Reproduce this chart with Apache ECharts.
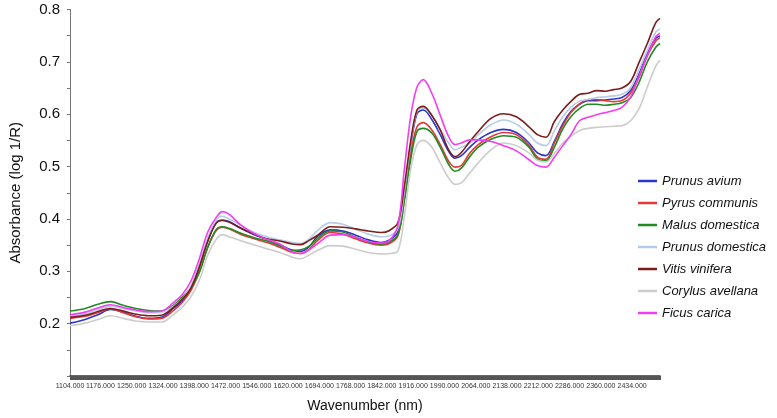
<!DOCTYPE html>
<html>
  <head>
    <meta charset="utf-8" />
    <title>NIR spectra</title>
    <script src="https://cdn.jsdelivr.net/npm/echarts@6/dist/echarts.min.js"></script>
    <style>
      body { margin: 0; background: #fff; }
    </style>
  </head>
  <body>
    <div id="chart" style="width: 777px; height: 418px"></div>

    <script type="text/javascript">
const wavelengths = [1104, 1140, 1170, 1200, 1230, 1260, 1290, 1320, 1350, 1370,
  1390, 1410, 1430, 1450, 1465, 1480, 1510, 1540, 1570, 1600,
  1630, 1650, 1670, 1690, 1720, 1750, 1780, 1810, 1840, 1860,
  1880, 1895, 1910, 1925, 1940, 1960, 1980, 2000, 2015, 2030,
  2050, 2070, 2100, 2130, 2160, 2190, 2210, 2230, 2250, 2270,
  2290, 2310, 2330, 2350, 2370, 2390, 2410, 2430, 2450, 2470,
  2490, 2500];

// x tick labels
const xTickLabels = [1104, 1176, 1250, 1324, 1398, 1472, 1546, 1620, 1694, 1768,
  1842, 1916, 1990, 2064, 2138, 2212, 2286, 2360, 2434];

const speciesNames = ['Prunus avium', 'Pyrus communis', 'Malus domestica',
  'Prunus domestica', 'Vitis vinifera', 'Corylus avellana', 'Ficus carica'];

const prunusAvium = [0.201, 0.208, 0.217, 0.227, 0.222, 0.214, 0.210, 0.212, 0.230, 0.244,
  0.267, 0.309, 0.358, 0.393, 0.398, 0.395, 0.381, 0.370, 0.361, 0.351,
  0.340, 0.338, 0.347, 0.367, 0.379, 0.377, 0.369, 0.360, 0.355, 0.360,
  0.376, 0.449, 0.538, 0.601, 0.608, 0.590, 0.561, 0.529, 0.516, 0.521,
  0.537, 0.551, 0.565, 0.571, 0.565, 0.545, 0.526, 0.521, 0.548, 0.582,
  0.606, 0.619, 0.626, 0.626, 0.627, 0.629, 0.632, 0.645, 0.676, 0.716,
  0.745, 0.750];

const pyrusCommunis = [0.210, 0.214, 0.221, 0.228, 0.221, 0.213, 0.209, 0.210, 0.226, 0.241,
  0.263, 0.299, 0.346, 0.378, 0.384, 0.381, 0.370, 0.362, 0.355, 0.346,
  0.336, 0.334, 0.342, 0.359, 0.374, 0.371, 0.362, 0.354, 0.350, 0.353,
  0.368, 0.437, 0.523, 0.576, 0.584, 0.570, 0.542, 0.510, 0.499, 0.502,
  0.526, 0.542, 0.557, 0.565, 0.561, 0.540, 0.518, 0.514, 0.545, 0.578,
  0.604, 0.620, 0.628, 0.628, 0.626, 0.624, 0.626, 0.640, 0.670, 0.712,
  0.740, 0.746];

const malusDomestica = [0.224, 0.229, 0.237, 0.242, 0.235, 0.229, 0.225, 0.224, 0.236, 0.251,
  0.268, 0.298, 0.346, 0.380, 0.385, 0.382, 0.372, 0.364, 0.358, 0.349,
  0.340, 0.341, 0.348, 0.363, 0.377, 0.375, 0.365, 0.356, 0.352, 0.356,
  0.370, 0.434, 0.513, 0.567, 0.573, 0.564, 0.537, 0.504, 0.491, 0.497,
  0.519, 0.537, 0.552, 0.559, 0.556, 0.537, 0.514, 0.511, 0.537, 0.572,
  0.596, 0.611, 0.619, 0.619, 0.617, 0.619, 0.622, 0.631, 0.660, 0.700,
  0.728, 0.735];

const prunusDomestica = [0.214, 0.219, 0.227, 0.233, 0.229, 0.224, 0.221, 0.222, 0.234, 0.248,
  0.271, 0.314, 0.364, 0.398, 0.405, 0.400, 0.387, 0.374, 0.366, 0.360,
  0.355, 0.353, 0.362, 0.378, 0.393, 0.390, 0.380, 0.371, 0.366, 0.368,
  0.382, 0.452, 0.543, 0.605, 0.612, 0.597, 0.572, 0.545, 0.532, 0.537,
  0.545, 0.561, 0.580, 0.589, 0.581, 0.561, 0.545, 0.540, 0.568, 0.595,
  0.614, 0.625, 0.628, 0.632, 0.633, 0.635, 0.638, 0.650, 0.685, 0.722,
  0.757, 0.763];

const vitisVinifera = [0.212, 0.216, 0.223, 0.229, 0.224, 0.218, 0.215, 0.216, 0.232, 0.247,
  0.268, 0.308, 0.358, 0.392, 0.397, 0.394, 0.382, 0.371, 0.362, 0.358,
  0.352, 0.351, 0.359, 0.369, 0.385, 0.384, 0.381, 0.377, 0.374, 0.378,
  0.393, 0.462, 0.548, 0.608, 0.615, 0.598, 0.570, 0.532, 0.519, 0.527,
  0.548, 0.567, 0.592, 0.601, 0.595, 0.576, 0.561, 0.556, 0.586, 0.608,
  0.625, 0.638, 0.640, 0.645, 0.644, 0.647, 0.650, 0.662, 0.698, 0.735,
  0.775, 0.783];

const corylusAvellana = [0.196, 0.201, 0.208, 0.215, 0.210, 0.205, 0.203, 0.203, 0.218, 0.232,
  0.251, 0.283, 0.331, 0.361, 0.370, 0.366, 0.358, 0.350, 0.343, 0.336,
  0.327, 0.324, 0.331, 0.340, 0.349, 0.348, 0.342, 0.336, 0.333, 0.334,
  0.339, 0.405, 0.494, 0.542, 0.550, 0.537, 0.507, 0.478, 0.466, 0.469,
  0.488, 0.507, 0.532, 0.545, 0.540, 0.526, 0.512, 0.509, 0.525, 0.545,
  0.558, 0.569, 0.573, 0.575, 0.576, 0.577, 0.578, 0.587, 0.610, 0.652,
  0.692, 0.703];

const ficusCarica = [0.217, 0.222, 0.230, 0.236, 0.231, 0.226, 0.223, 0.224, 0.241, 0.256,
  0.281, 0.324, 0.375, 0.403, 0.414, 0.409, 0.387, 0.372, 0.361, 0.352,
  0.337, 0.334, 0.341, 0.353, 0.369, 0.370, 0.365, 0.357, 0.354, 0.359,
  0.388, 0.494, 0.595, 0.652, 0.666, 0.640, 0.598, 0.557, 0.542, 0.545,
  0.551, 0.551, 0.548, 0.540, 0.530, 0.513, 0.502, 0.499, 0.518, 0.540,
  0.562, 0.588, 0.594, 0.599, 0.603, 0.607, 0.613, 0.632, 0.672, 0.712,
  0.748, 0.755];

const speciesValues = [prunusAvium, pyrusCommunis, malusDomestica, prunusDomestica,
  vitisVinifera, corylusAvellana, ficusCarica];

const speciesColors = ['#2b37cc', '#e33a36', '#228a22', '#b7cbe6', '#7c1c1c', '#cccccc', '#f23ef2'];

const font = '"Liberation Sans", Arial, sans-serif';

const series = speciesNames.map(function (name, i) {
  return {
    name: name,
    type: 'line',
    smooth: 0.35,
    showSymbol: false,
    animation: false,
    lineStyle: { color: speciesColors[i], width: 1.6 },
    itemStyle: { color: speciesColors[i] },
    data: wavelengths.map((w, j) => [w, speciesValues[i][j]])
  };
});

const option = {
  backgroundColor: '#ffffff',
  animation: false,
  grid: { left: 67, right: 117, top: 9.5, bottom: 39.6, containLabel: false },
  legend: {
    orient: 'vertical',
    left: 633,
    top: 169,
    itemGap: 8,
    itemWidth: 19,
    itemHeight: 2.5,
    icon: 'rect',
    data: speciesNames,
    textStyle: {
      fontFamily: font,
      fontStyle: 'italic',
      fontSize: 13,
      lineHeight: 14,
      color: '#111'
    }
  },
  xAxis: {
    type: 'value',
    min: 1104,
    max: 2500,
    interval: 2,
    name: 'Wavenumber (nm)',
    nameLocation: 'middle',
    nameGap: 23,
    nameTextStyle: { fontFamily: font, fontSize: 14, color: '#111' },
    axisLine: { show: true, lineStyle: { color: '#333', width: 1.5 } },
    axisTick: { show: true, length: 4, lineStyle: { color: '#555', width: 1 } },
    axisLabel: {
      customValues: xTickLabels,
      fontFamily: font,
      fontSize: 7,
      color: '#333',
      margin: 7,
      formatter: (v) => v.toFixed(3)
    },
    splitLine: { show: false }
  },
  yAxis: {
    type: 'value',
    min: 0.1,
    max: 0.8,
    interval: 0.1,
    name: 'Absorbance (log 1/R)',
    nameLocation: 'middle',
    nameGap: 47,
    nameTextStyle: { fontFamily: font, fontSize: 15, color: '#111' },
    axisLine: { show: true, lineStyle: { color: '#777', width: 1 } },
    axisTick: { show: true, length: 3, lineStyle: { color: '#777' } },
    minorTick: { show: true, splitNumber: 2, length: 3, lineStyle: { color: '#777' } },
    axisLabel: {
      showMinLabel: false,
      fontFamily: font,
      fontSize: 15,
      color: '#111',
      margin: 10,
      formatter: (v) => v.toFixed(1)
    },
    splitLine: { show: false }
  },
  series: series
};

const chart = echarts.init(document.getElementById('chart'), null, { renderer: 'canvas' });
chart.setOption(option);
    </script>
  </body>
</html>
